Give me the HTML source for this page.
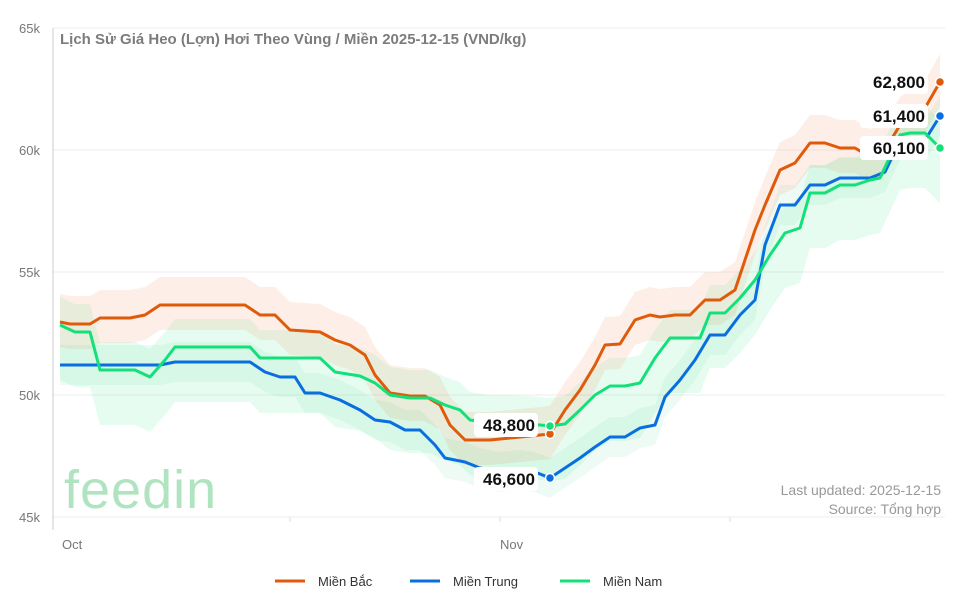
<!DOCTYPE html>
<html><head><meta charset="utf-8">
<style>
body{margin:0;background:#fff;font-family:"Liberation Sans","DejaVu Sans",sans-serif;}
svg text{font-family:"Liberation Sans","DejaVu Sans",sans-serif;}
</style></head>
<body>
<svg id="s" width="974" height="596" xmlns="http://www.w3.org/2000/svg">
<rect width="974" height="596" fill="#fff"/>
<g stroke="#eeeeee" stroke-width="1">
<line x1="53" y1="28" x2="945" y2="28"/>
<line x1="53" y1="150" x2="945" y2="150"/>
<line x1="53" y1="272" x2="945" y2="272"/>
<line x1="53" y1="395" x2="945" y2="395"/>
<line x1="53" y1="517" x2="945" y2="517"/>
</g>
<line x1="53" y1="28" x2="53" y2="530" stroke="#ccc"/>
<g stroke="#ddd"><line x1="290" y1="517" x2="290" y2="522"/><line x1="500" y1="517" x2="500" y2="522"/><line x1="730" y1="517" x2="730" y2="522"/></g>
<g font-size="13" fill="#777" text-anchor="end">
<text x="40" y="33">65k</text><text x="40" y="155">60k</text><text x="40" y="277">55k</text><text x="40" y="400">50k</text><text x="40" y="522">45k</text>
</g>
<g font-size="13" fill="#777"><text x="62" y="549">Oct</text><text x="500" y="549">Nov</text></g>
<text x="60" y="44" font-size="15" fill="#666" font-weight="bold" opacity="0.85">Lịch Sử Giá Heo (Lợn) Hơi Theo Vùng / Miền 2025-12-15 (VND/kg)</text>
<text x="64" y="508" font-size="54" fill="#8fd9a8" opacity="0.7" letter-spacing="1">feedin</text>
<g font-size="14" fill="#999" text-anchor="end"><text x="941" y="495">Last updated: 2025-12-15</text><text x="941" y="514">Source: Tổng hợp</text></g>
<g id="bands"></g><g id="lines"></g>
<g font-size="17" font-weight="bold" fill="#111" text-anchor="end">
<rect x="860" y="70" width="68" height="24" rx="4" fill="#fff"/><text x="925" y="88">62,800</text>
<rect x="860" y="104" width="68" height="24" rx="4" fill="#fff"/><text x="925" y="122">61,400</text>
<rect x="860" y="136" width="68" height="24" rx="4" fill="#fff"/><text x="925" y="154">60,100</text>
<rect x="474" y="413" width="64" height="24" rx="4" fill="#fff"/><text x="535" y="431">48,800</text>
<rect x="474" y="467" width="64" height="24" rx="4" fill="#fff"/><text x="535" y="485">46,600</text>
</g>
<g stroke="#fff" stroke-width="1.5">
<circle cx="940" cy="82" r="4.5" fill="#e05a0c"/><circle cx="940" cy="116" r="4.5" fill="#0a6ee0"/><circle cx="940" cy="148" r="4.5" fill="#14e07a"/>
<circle cx="550" cy="434" r="4.5" fill="#e05a0c"/><circle cx="550" cy="478" r="4.5" fill="#0a6ee0"/><circle cx="550" cy="426" r="4.5" fill="#14e07a"/>
</g>
<g font-size="13" fill="#333">
<line x1="275" y1="581" x2="305" y2="581" stroke="#e05a0c" stroke-width="3"/><text x="318" y="586">Miền Bắc</text>
<line x1="410" y1="581" x2="440" y2="581" stroke="#0a6ee0" stroke-width="3"/><text x="453" y="586">Miền Trung</text>
<line x1="560" y1="581" x2="590" y2="581" stroke="#14e07a" stroke-width="3"/><text x="603" y="586">Miền Nam</text>
</g>
</svg>
<script>
var O=[[60,322],[70,324],[90,324],[100,318],[130,318],[145,315],[160,305],[245,305],[260,315],[275,315],[290,330],[320,332],[335,340],[350,345],[365,355],[375,375],[390,393],[410,396],[425,396],[440,405],[450,425],[465,440],[490,440],[510,438],[530,436],[550,434],[565,410],[580,390],[595,365],[605,345],[620,344],[635,320],[650,315],[660,317],[675,315],[690,315],[705,300],[720,300],[735,290],[745,260],[755,230],[765,205],[780,170],[795,163],[810,143],[825,143],[840,148],[855,148],[870,157],[885,150],[900,125],[925,108],[940,82]];
var B=[[60,365],[160,365],[175,362],[250,362],[265,372],[280,377],[295,377],[305,393],[320,393],[340,400],[360,410],[375,420],[390,422],[405,430],[420,430],[435,445],[445,458],[465,462],[480,468],[500,472],[520,470],[535,472],[550,478],[565,468],[580,458],[595,447],[610,437],[625,437],[640,428],[655,425],[665,397],[680,380],[695,360],[710,335],[725,335],[740,315],[755,300],[765,245],[780,205],[795,205],[810,185],[825,185],[840,178],[855,178],[870,178],[885,172],[900,140],[925,140],[940,116]];
var G=[[60,325],[75,332],[90,332],[100,370],[135,370],[150,377],[165,360],[175,347],[250,347],[260,358],[320,358],[335,372],[360,376],[375,383],[390,395],[410,398],[430,398],[445,405],[460,410],[470,420],[490,423],[510,423],[530,424],[550,426],[565,424],[580,410],[595,395],[610,386],[625,386],[640,383],[655,358],[670,338],[700,338],[710,313],[725,313],[740,298],[755,280],[770,255],[785,233],[800,228],[810,193],[825,193],[840,185],[855,185],[870,180],[880,178],[900,135],[910,133],[925,133],[940,148]];
function pts(a){return a.map(p=>p[0]+','+p[1]).join(' ');}
function band(a,up,dn){var u=a.map(p=>[p[0],p[1]-up]),d=a.map(p=>[p[0],Math.min(517,p[1]+dn)]).reverse();return pts(u.concat(d));}
var ns="http://www.w3.org/2000/svg",bg=document.getElementById('bands'),lg=document.getElementById('lines');
function poly(g,tag,attrs){var e=document.createElementNS(ns,tag);for(var k in attrs)e.setAttribute(k,attrs[k]);g.appendChild(e);}
poly(bg,'polygon',{points:band(G,28,55),fill:'rgba(20,224,122,0.10)'});
poly(bg,'polygon',{points:band(O,28,25),fill:'rgba(240,120,60,0.12)'});
poly(bg,'polygon',{points:band(B,20,20),fill:'rgba(20,180,100,0.07)'});
[[O,'#e05a0c'],[B,'#0a6ee0'],[G,'#14e07a']].forEach(function(s){poly(lg,'polyline',{points:pts(s[0]),fill:'none',stroke:s[1],'stroke-width':3,'stroke-linejoin':'round'});});
</script>
</body></html>
